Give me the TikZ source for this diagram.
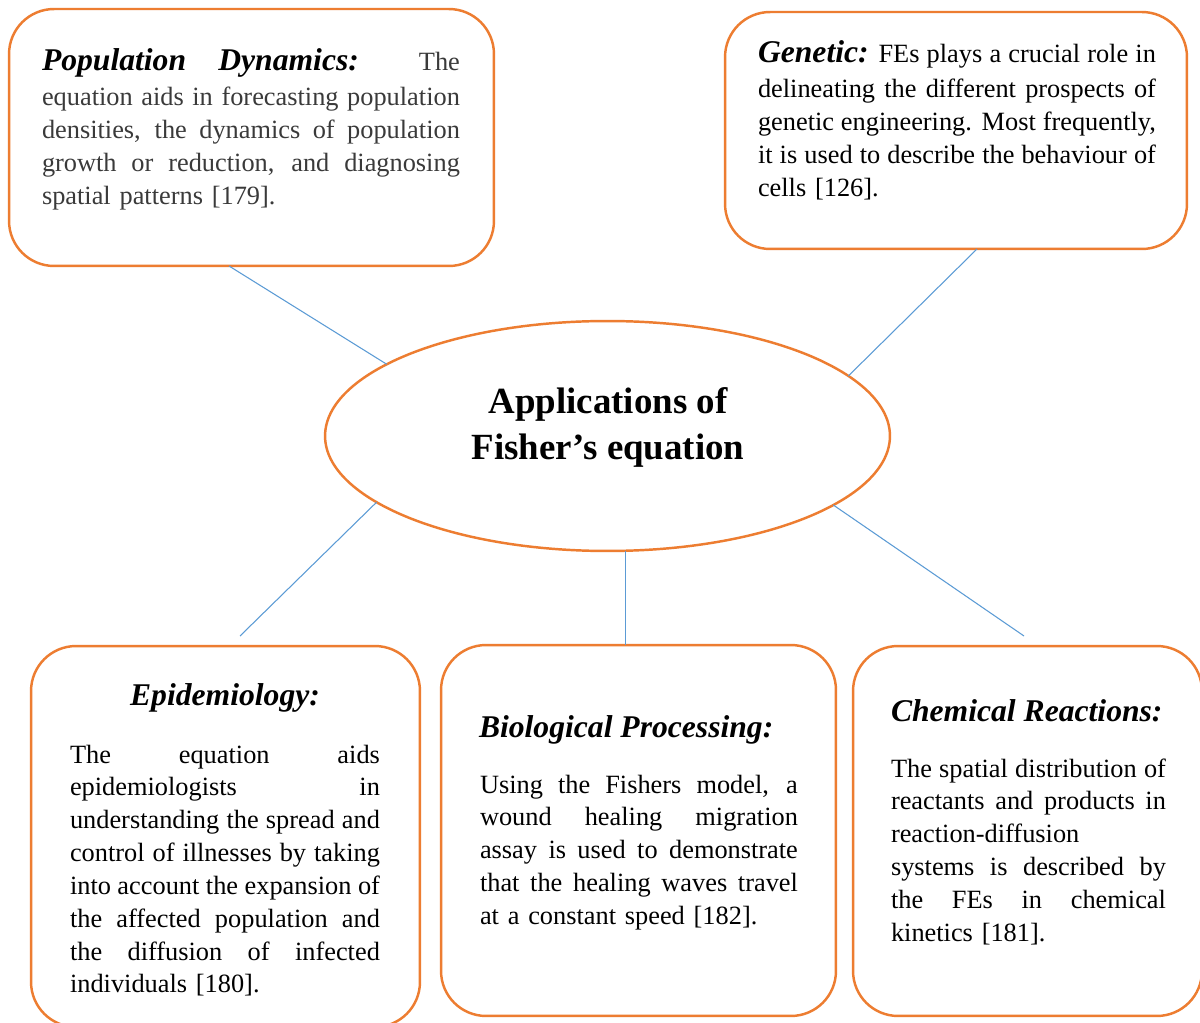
\documentclass[tikz,border=0pt]{standalone}
\usepackage{fontspec}
\setmainfont{Liberation Serif}
\usetikzlibrary{shapes.geometric,calc}
\definecolor{boxorange}{HTML}{ED7D31}
\definecolor{linkblue}{HTML}{5B9BD5}
\definecolor{softblack}{HTML}{3A3A3A}
\newcommand{\jl}[1]{\leavevmode\hbox to \hsize{\spaceskip=0pt\xspaceskip=0pt #1}}
\newcommand{\hd}{\fontsize{18}{22}\selectfont\bfseries\itshape}
\newcommand{\bodyfont}{\fontsize{15}{18.7}\selectfont}
\begin{document}
\begin{tikzpicture}[x=0.02cm,y=-0.02cm,
  appbox/.style={draw=boxorange,line width=1.4pt,rounded corners=0.9cm,inner sep=0pt,outer sep=0pt},
  link/.style={draw=linkblue,line width=0.6pt},
  bodytxt/.style={anchor=base west,inner sep=0pt,outer sep=0pt,text width=#1,font=\bodyfont},
  headtxt/.style={inner sep=0pt,outer sep=0pt,font=\hd}]
\useasboundingbox (0,0) rectangle (1200,1023);
\fill[white] (0,0) rectangle (1200,1023);

% boxes
\node[appbox,minimum width=9.7cm,minimum height=5.14cm] (pop) at (251.5,137.5) {};
\node[appbox,minimum width=9.24cm,minimum height=4.74cm] (gen) at (956,130.5) {};
\node[appbox,minimum width=7.78cm,minimum height=7.62cm] (epi) at (225.5,836.5) {};
\node[appbox,minimum width=7.9cm,minimum height=7.42cm] (bio) at (638.5,830.5) {};
\node[appbox,minimum width=6.98cm,minimum height=7.4cm] (chem) at (1027.5,831) {};
\node[ellipse,draw=boxorange,line width=1.4pt,minimum width=11.3cm,minimum height=4.6cm,inner sep=0pt,outer sep=0pt] (hub) at (607.5,436) {};

% title
\node[inner sep=0pt,anchor=base,align=center,font=\fontsize{21}{26.65}\selectfont\bfseries] (hubtext) at (608,460) {Applications of\\Fisher’s equation};

% Population dynamics
\node[bodytxt=8.36cm] (poptext) at (42,71) {%
\jl{{\hd\color{black}Population} {\hd\color{black}Dynamics:} {\color{softblack}The}}\\[0.04cm]
\color{softblack}\jl{equation aids in forecasting population}\\
\jl{densities, the dynamics of population}\\
\jl{growth or reduction, and diagnosing}\\
spatial patterns [179].};

% Genetic
\node[bodytxt=7.96cm] (gentext) at (758,63) {%
\jl{{\hd Genetic:} FEs plays a crucial role in}\\[0.04cm]
\jl{delineating the different prospects of}\\
\jl{genetic engineering. Most frequently,}\\
\jl{it is used to describe the behaviour of}\\
cells [126].};

% Epidemiology
\node[headtxt,anchor=base] (epihead) at (225,705) {Epidemiology:};
\node[bodytxt=6.2cm] (epitext) at (70,763) {%
\jl{The equation aids}\\
\jl{epidemiologists in}\\
\jl{understanding the spread and}\\
\jl{control of illnesses by taking}\\
\jl{into account the expansion of}\\
\jl{the affected population and}\\
\jl{the diffusion of infected}\\
individuals [180].};

% Biological processing
\node[headtxt,anchor=base west] (biohead) at (479,737) {Biological Processing:};
\node[bodytxt=6.36cm] (biotext) at (480,793) {%
\jl{Using the Fishers model, a}\\
\jl{wound healing migration}\\
\jl{assay is used to demonstrate}\\
\jl{that the healing waves travel}\\
at a constant speed [182].};

% Chemical reactions
\node[headtxt,anchor=base west] (chemhead) at (891,721) {Chemical Reactions:};
\node[bodytxt=5.5cm] (chemtext) at (891,777) {%
\jl{The spatial distribution of}\\
\jl{reactants and products in}\\
reaction-diffusion\\
\jl{systems is described by}\\
\jl{the FEs in chemical}\\
kinetics [181].};

% connectors
\coordinate (epiend) at (240,636);
\coordinate (chemend) at (1024,636);
\draw[link] ($(pop.south west)!0.4536!(pop.south east)$) -- (hub.162.6);
\draw[link] ($(gen.south west)!0.5455!(gen.south east)$) -- (hub.14.8);
\draw[link] (hub.196.9) -- (epiend);
\draw[link] (hub.-81.8) -- (hub.-81.8 |- bio.north);
\draw[link] (hub.-17.6) -- (chemend);
\end{tikzpicture}
\end{document}
